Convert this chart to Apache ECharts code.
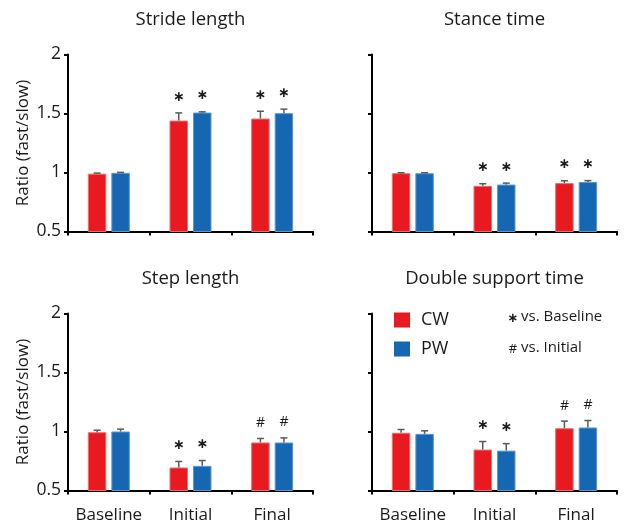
<!DOCTYPE html>
<html>
<head>
<meta charset="utf-8">
<script src="https://cdn.jsdelivr.net/npm/echarts@6/dist/echarts.min.js"></script>
<style>
html,body{margin:0;padding:0;background:#fff;}
#chart{width:624px;height:526px;}
</style>
</head>
<body>
<div id="chart"></div>
<script>
// ---- data ----
const categories = ['Baseline', 'Initial', 'Final'];
const panelTitles = ['Stride length', 'Stance time', 'Step length', 'Double support time'];
const seriesNames = ['CW', 'PW'];
const yTicks = [0.5, 1, 1.5, 2];

const strideCW = [0.990, 1.440, 1.457];
const strideCWErr = [0.005, 0.065, 0.062];
const stridePW = [0.997, 1.508, 1.503];
const stridePWErr = [0.004, 0.006, 0.034];
const strideMarks = ['', '*', '*'];

const stanceCW = [0.994, 0.887, 0.910];
const stanceCWErr = [0.004, 0.018, 0.020];
const stancePW = [0.994, 0.898, 0.920];
const stancePWErr = [0.004, 0.012, 0.011];
const stanceMarks = ['', '*', '*'];

const stepCW = [0.994, 0.695, 0.907];
const stepCWErr = [0.017, 0.051, 0.034];
const stepPW = [1.000, 0.709, 0.907];
const stepPWErr = [0.020, 0.045, 0.039];
const stepMarks = ['', '*', '#'];

const dstCW = [0.989, 0.847, 1.028];
const dstCWErr = [0.028, 0.068, 0.060];
const dstPW = [0.980, 0.838, 1.034];
const dstPWErr = [0.026, 0.059, 0.059];
const dstMarks = ['', '*', '#'];

const panels = [
  {cw: strideCW, cwErr: strideCWErr, pw: stridePW, pwErr: stridePWErr, marks: strideMarks},
  {cw: stanceCW, cwErr: stanceCWErr, pw: stancePW, pwErr: stancePWErr, marks: stanceMarks},
  {cw: stepCW, cwErr: stepCWErr, pw: stepPW, pwErr: stepPWErr, marks: stepMarks},
  {cw: dstCW, cwErr: dstCWErr, pw: dstPW, pwErr: dstPWErr, marks: dstMarks}
];

// ---- styles ----
const FONT = 'Open Sans';
const TXT = '#1a1a1a';
const RED = '#e8191f';
const BLUE = '#1667b1';
const RED_EDGE = '#f06a6c';
const BLUE_EDGE = '#5c98d2';
const BAR_W = 18.5;
const GAP = 5;
const OFF = (BAR_W + GAP) / 2;

const gridPos = [
  {left: 68, top: 54.5, width: 245, height: 177},
  {left: 372, top: 54.5, width: 245, height: 177},
  {left: 68, top: 313.5, width: 245, height: 177},
  {left: 372, top: 313.5, width: 245, height: 177}
];

const grids = [], xAxes = [], yAxes = [], series = [], graphics = [];

panels.forEach((p, i) => {
  grids.push(Object.assign({containLabel: false}, gridPos[i]));
  const isBottom = i >= 2, isLeft = i % 2 === 0;
  xAxes.push({
    type: 'category', gridIndex: i, data: categories,
    axisLine: {lineStyle: {color: '#000', width: 2}},
    axisTick: {show: true, length: 4, lineStyle: {color: '#000', width: 2}},
    axisLabel: {show: isBottom, interval: 0, fontFamily: FONT, fontSize: 17, color: TXT, margin: 16}
  });
  yAxes.push({
    type: 'value', gridIndex: i, min: 0.5, max: 2, interval: 0.5,
    name: isLeft ? 'Ratio (fast/slow)' : '', nameLocation: 'middle', nameGap: 36,
    nameTextStyle: {fontFamily: FONT, fontSize: 17, color: TXT},
    axisLine: {show: true, lineStyle: {color: '#000', width: 2}},
    axisTick: {show: true, length: 4, lineStyle: {color: '#000', width: 2}},
    splitLine: {show: false},
    axisLabel: {show: isLeft, fontFamily: FONT, fontSize: 17.5, color: TXT, margin: 7,
      formatter: v => yTicks.indexOf(v) >= 0 ? String(v) : ''}
  });
  const defs = [
    {name: seriesNames[0], vals: p.cw, err: p.cwErr, color: RED, edge: RED_EDGE, off: -OFF},
    {name: seriesNames[1], vals: p.pw, err: p.pwErr, color: BLUE, edge: BLUE_EDGE, off: OFF}
  ];
  defs.forEach(d => {
    series.push({
      type: 'bar', name: d.name, xAxisIndex: i, yAxisIndex: i,
      data: d.vals, barWidth: BAR_W, barGap: (GAP / BAR_W * 100) + '%',
      itemStyle: {color: d.color, borderColor: d.edge, borderWidth: 1},
      silent: true
    });
  });
  defs.forEach(d => {
    series.push({
      type: 'custom', xAxisIndex: i, yAxisIndex: i, silent: true, z: 5,
      data: d.vals.map((v, k) => [k, v, v + d.err[k]]),
      renderItem: (params, api) => {
        const k = api.value(0);
        const a = api.coord([k, api.value(1)]);
        const b = api.coord([k, api.value(2)]);
        const x = a[0] + d.off;
        const children = [
          {type: 'line', shape: {x1: x, y1: a[1], x2: x, y2: b[1]}, style: {stroke: '#5a5a5a', lineWidth: 1.5}},
          {type: 'line', shape: {x1: x - 3.5, y1: b[1], x2: x + 3.5, y2: b[1]}, style: {stroke: '#5a5a5a', lineWidth: 1.5}}
        ];
        const m = p.marks[params.dataIndex];
        if (m === '*') {
          children.push({type: 'text', style: {text: '\u2217', x: x, y: b[1] - 16, fontFamily: 'DejaVu Sans', fontSize: 14, fontWeight: 'bold', fill: TXT, align: 'center', verticalAlign: 'middle'}});
        } else if (m === '#') {
          children.push({type: 'text', style: {text: '#', x: x, y: b[1] - 15.5, fontFamily: FONT, fontSize: 14, fill: TXT, align: 'center', verticalAlign: 'middle'}});
        }
        return {type: 'group', children: children};
      }
    });
  });
  graphics.push({
    type: 'text', x: gridPos[i].left + gridPos[i].width / 2, y: isBottom ? 279 : 20,
    style: {text: panelTitles[i], fontFamily: FONT, fontSize: 18.5, fill: TXT, align: 'center', verticalAlign: 'middle'}
  });
});

graphics.push({type: 'text', x: 513, y: 318.5, style: {text: '\u2217', fontFamily: 'DejaVu Sans', fontSize: 13, fontWeight: 'bold', fill: TXT, align: 'center', verticalAlign: 'middle'}});
graphics.push({type: 'text', x: 521, y: 317, style: {text: 'vs. Baseline', fontFamily: FONT, fontSize: 15, fill: TXT, align: 'left', verticalAlign: 'middle'}});
graphics.push({type: 'text', x: 513, y: 349, style: {text: '#', fontFamily: FONT, fontSize: 13, fill: TXT, align: 'center', verticalAlign: 'middle'}});
graphics.push({type: 'text', x: 521, y: 348, style: {text: 'vs. Initial', fontFamily: FONT, fontSize: 15, fill: TXT, align: 'left', verticalAlign: 'middle'}});

const chart = echarts.init(document.getElementById('chart'), null, {renderer: 'canvas'});
chart.setOption({
  animation: false,
  backgroundColor: '#fff',
  grid: grids,
  xAxis: xAxes,
  yAxis: yAxes,
  legend: {
    data: seriesNames, orient: 'vertical', left: 394, top: 311, padding: 0,
    itemWidth: 16, itemHeight: 15, itemGap: 11, icon: 'rect', selectedMode: false,
    textStyle: {fontFamily: FONT, fontSize: 18, color: TXT, padding: [0, 0, 0, 6]},
    itemStyle: {borderWidth: 0}
  },
  series: series,
  graphic: graphics
});
</script>
</body>
</html>
